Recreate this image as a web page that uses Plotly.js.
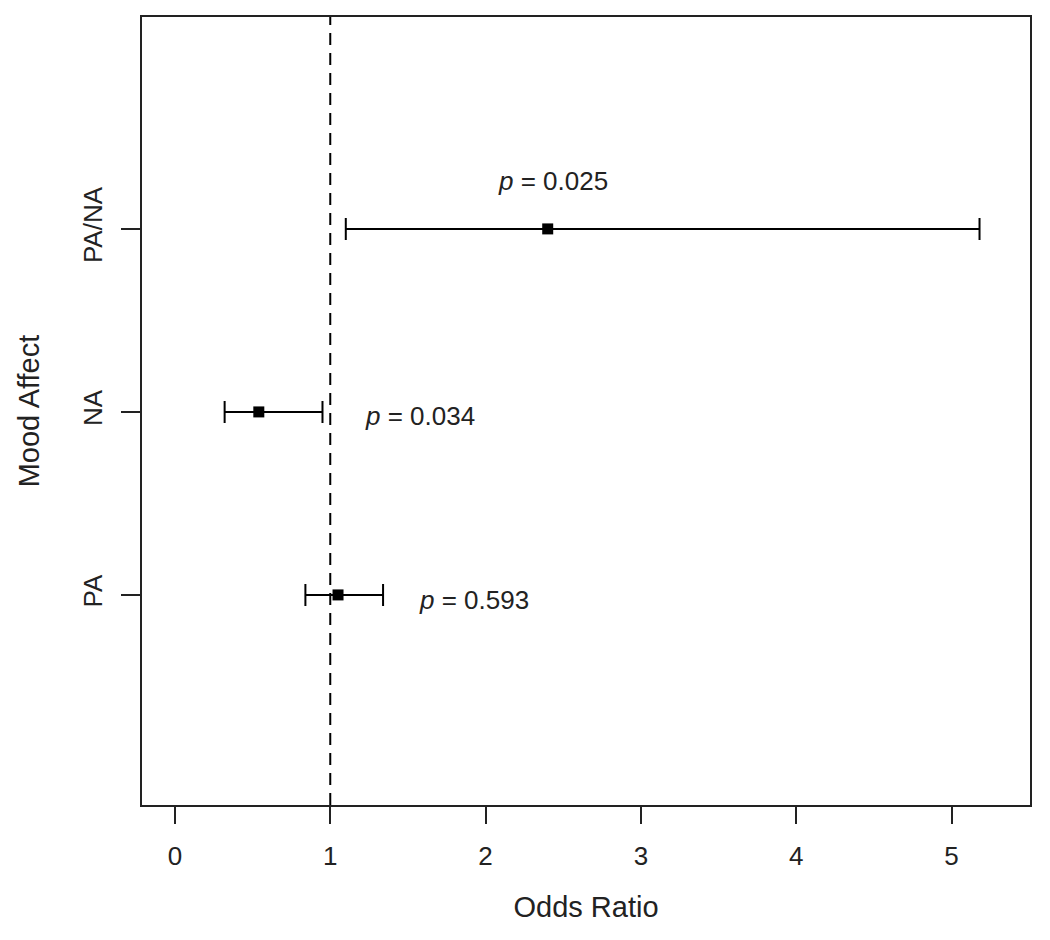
<!DOCTYPE html>
<html>
<head>
<meta charset="utf-8">
<script src="https://cdn.plot.ly/plotly-3.0.1.min.js"></script>
<style>
  body { margin: 0; background: #fff; }
  #plotArea { width: 1050px; height: 940px; }
</style>
</head>
<body>
<div id="plotArea"></div>
<script>
// mood affect groups, bottom to top
var groups = ["PA", "NA", "PA/NA"];
var groupPos = [1, 2, 3];
var oddsRatio = [1.05, 0.54, 2.40];
var ciLow = [0.84, 0.32, 1.10];
var ciHigh = [1.34, 0.95, 5.18];
var pValues = ["0.593", "0.034", "0.025"];
var nullValue = 1;

// where the p labels sit (data units)
var pLabelX = [1.56, 1.21, 2.07];
var pLabelY = [0.97, 1.98, 3.26];

var fontFam = "Liberation Sans, Arial, sans-serif";

var trace = {
    x: oddsRatio,
    y: groupPos,
    mode: "markers",
    type: "scatter",
    marker: {symbol: "square", size: 11, color: "#000"},
    error_x: {
        type: "data",
        symmetric: false,
        array: oddsRatio.map(function(v, i) { return ciHigh[i] - v; }),
        arrayminus: oddsRatio.map(function(v, i) { return v - ciLow[i]; }),
        color: "#000",
        thickness: 2,
        width: 11
    },
    hoverinfo: "x+y"
};

var annotations = pValues.map(function(p, i) {
    return {
        x: pLabelX[i], y: pLabelY[i], xref: "x", yref: "y",
        text: "<i>p</i> = " + p,
        showarrow: false, xanchor: "left", yanchor: "middle",
        font: {family: fontFam, size: 26, color: "#222"}
    };
});

var layout = {
    width: 1050,
    height: 940,
    margin: {l: 142, r: 20, t: 17, b: 135},
    paper_bgcolor: "#fff",
    plot_bgcolor: "#fff",
    showlegend: false,
    font: {family: fontFam, size: 26, color: "#222"},
    xaxis: {
        range: [-0.212, 5.505],
        tickvals: [0, 1, 2, 3, 4, 5],
        ticks: "outside", ticklen: 17, tickwidth: 2, tickcolor: "#222",
        ticklabelstandoff: 10,
        showline: true, mirror: true, linewidth: 2, linecolor: "#222",
        showgrid: false, zeroline: false,
        title: {text: "Odds Ratio", standoff: 26, font: {size: 29}}
    },
    yaxis: {
        range: [-0.148, 4.158],
        tickvals: groupPos,
        ticktext: groups,
        tickangle: -90,
        ticks: "outside", ticklen: 19, tickwidth: 2, tickcolor: "#222",
        ticklabelstandoff: 9,
        showline: true, mirror: true, linewidth: 2, linecolor: "#222",
        showgrid: false, zeroline: false,
        title: {text: "Mood Affect", standoff: 29, font: {size: 29}}
    },
    shapes: [{
        type: "line", xref: "x", yref: "paper",
        x0: nullValue, x1: nullValue, y0: 0, y1: 1,
        line: {color: "#000", width: 2, dash: "12px,8px"}
    }],
    annotations: annotations
};

Plotly.newPlot("plotArea", [trace], layout, {displayModeBar: false});
</script>
</body>
</html>
